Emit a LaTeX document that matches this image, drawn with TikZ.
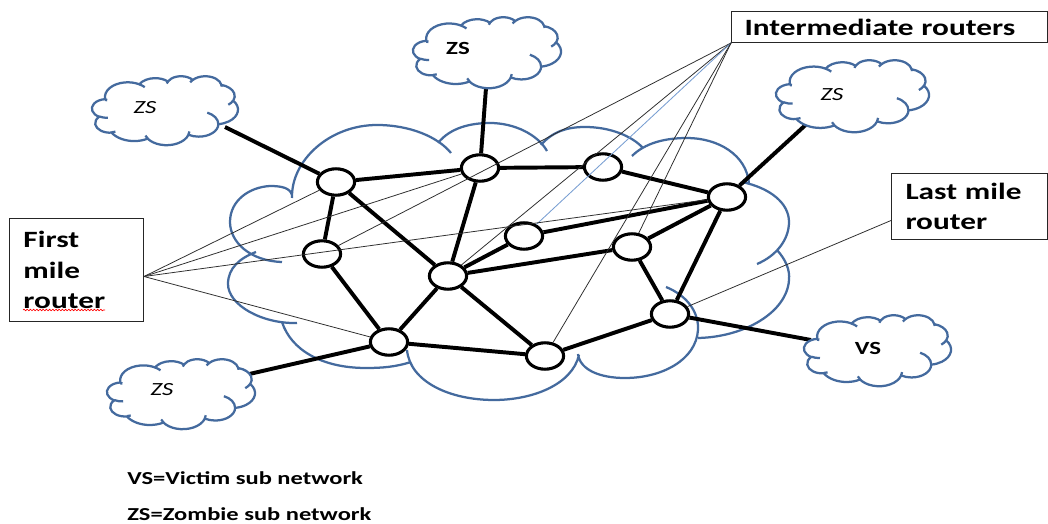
\documentclass[tikz,border=0pt]{standalone}
\usepackage{fontspec}
\newfontfamily\carl[FakeStretch=1.34]{Carlito}
\usetikzlibrary{shapes.geometric,decorations.pathmorphing}
\definecolor{cloudc}{RGB}{68,106,158}
\definecolor{thinc}{RGB}{45,45,45}
\definecolor{bluel}{RGB}{120,158,210}
\pgfdeclarelayer{bg}
\pgfsetlayers{bg,main}
\tikzset{
  declare function={
    cpt(\ra,\rb,\sa)=atan2(\ra*sin(\sa),\rb*cos(\sa));
    cdl(\ra,\rb,\sa,\sw)=mod(cpt(\ra,\rb,\sa+\sw)-cpt(\ra,\rb,\sa)+720,360)-360*(\sw<0);
  },
  ca/.style n args={4}{insert path={arc[x radius=#1,y radius=#2,start angle={cpt(#1,#2,#3)},delta angle={cdl(#1,#2,#3,#4)}]}},
  cloudline/.style={draw=cloudc,line width=1.6pt},
  officecloud/.pic={
    \path[cloudline,fill=white] (390,1437)
      [ca={675.3}{919.0}{-190.487}{123.781}]
      [ca={533.3}{726.7}{-144.102}{89.945}]
      [ca={436.5}{594.5}{-145.808}{99.723}]
      [ca={485.7}{659.5}{-130.986}{117.242}]
      [ca={533.3}{727.3}{-78.709}{109.027}]
      [ca={677.5}{922.0}{-46.267}{130.269}]
      [ca={578.5}{786.7}{0.625}{114.033}]
      [ca={675.2}{921.5}{22.452}{115.173}]
      [ca={772.0}{1054.3}{66.243}{75.711}]
      [ca={436.0}{591.8}{-274.942}{146.736}]
      [ca={434.5}{594.5}{-246.829}{152.519}] -- cycle;
    \path[cloudline] (469.3,2617.7) [ca={434.5}{594.5}{86.742}{26.430}]
      (692.8,3489.9) [ca={436.0}{591.8}{73.611}{11.447}]
      (1647.8,3909.0) [ca={675.2}{921.5}{137.624}{14.081}]
      (2882.7,3475.1) [ca={675.2}{921.5}{6.453}{15.998}]
      (3412.9,2295.4) [ca={578.5}{786.7}{-70.292}{70.917}]
      (4179.8,1535.4) [ca={533.3}{727.3}{30.318}{27.752}]
      (3832.4,542.6) [ca={485.7}{659.5}{-13.744}{14.859}]
      (2907.8,395.2) [ca={485.7}{659.5}{-149.181}{18.195}]
      (2214.1,472.0) [ca={436.5}{594.5}{-163.494}{17.686}]
      (1400.0,519.2) [ca={675.3}{919.0}{-66.707}{16}]
      (412.7,1578.9) [ca={675.3}{919.0}{180.226}{13.5}];
  },
  router/.style={ellipse,draw=black,line width=2.2pt,fill=white,minimum width=0.93cm,minimum height=0.66cm,inner sep=0pt},
  link/.style={draw=black,line width=2.8pt},
  thinl/.style={draw=thinc,line width=0.55pt},
  bluel/.style={draw=bluel,line width=0.6pt},
  lbox/.style={draw=black!85,line width=0.7pt,fill=white,rectangle,anchor=north west,align=left,inner ysep=0pt,
    font=\carl\bfseries\fontsize{16.6}{21.7}\selectfont},
  clab/.style={font=\carl\fontsize{13.2}{15}\selectfont,inner sep=0pt},
  legend/.style={font=\carl\bfseries\fontsize{13}{15}\selectfont,inner sep=0pt,anchor=base west},
}
\newcommand\ocloud[4]{\pic[xscale=#3/4320,yscale=#4/4320] at (#1,#2) {officecloud};}
\begin{document}
\begin{tikzpicture}[x=0.025cm,y=-0.025cm]
\useasboundingbox (0,0) rectangle (1048,524);

% routers
\node[router] (A) at (336,182) {};
\node[router] (B) at (480,168) {};
\node[router] (C) at (603,167) {};
\node[router] (D) at (727,197) {};
\node[router] (E) at (322,254) {};
\node[router] (F) at (524,236) {};
\node[router] (G) at (448,276) {};
\node[router] (H) at (632,247) {};
\node[router] (I) at (389,342) {};
\node[router] (J) at (545,356) {};
\node[router] (K) at (670,314) {};

% cloud attachment points
\coordinate (ctl) at (225,127);
\coordinate (ct) at (486,88);
\coordinate (cr) at (811,120);
\coordinate (cvs) at (811,340);
\coordinate (cbl) at (245,375);

\begin{pgfonlayer}{bg}
\fill[white] (0,0) rectangle (1048,524);
% big network cloud (overlapping bumps)
\draw[cloudline]
 (292,198) .. controls (291,160) and (330,125) .. (377,125) .. controls (410,125) and (438,137) .. (451,153)
 (438,143) .. controls (450,128) and (470,123) .. (490,123) .. controls (515,123) and (538,135) .. (547,151)
 (541,145) .. controls (553,131) and (568,127) .. (585,127) .. controls (610,127) and (632,136) .. (643,148)
 (632,156) .. controls (645,143) and (665,138) .. (687,138) .. controls (718,138) and (747,155) .. (749,184)
 (742,182) .. controls (770,188) and (789,203) .. (789,222) .. controls (789,240) and (776,256) .. (757,264)
 (777,250) .. controls (786,260) and (790,270) .. (789,280) .. controls (787,312) and (745,337) .. (698,338)
 (666,287) .. controls (688,296) and (699,313) .. (698,330) .. controls (696,360) and (662,378) .. (625,378) .. controls (600,378) and (580,370) .. (578,354)
 (579,355) .. controls (572,385) and (532,400) .. (494,400) .. controls (450,400) and (410,382) .. (407,350)
 (411,362) .. controls (395,367) and (382,368) .. (366,368) .. controls (322,368) and (291,350) .. (282,322)
 (297,323) .. controls (262,324) and (228,305) .. (228,284) .. controls (228,268) and (240,258) .. (256,252)
 (282,262) .. controls (250,261) and (230,242) .. (230,222) .. controls (230,200) and (250,187) .. (270,186) .. controls (282,186) and (290,188) .. (292,195);
% thick links
\draw[link] (ctl) -- (A);
\draw[link] (ct) -- (B);
\draw[link] (cr) -- (D);
\draw[link] (cvs) -- (K);
\draw[link] (cbl) -- (I);
\draw[link] (A) -- (B);
\draw[link] (A) -- (E);
\draw[link] (A) -- (G);
\draw[link] (B) -- (C);
\draw[link] (B) -- (G);
\draw[link] (C) -- (D);
\draw[link] (D) -- (F);
\draw[link] (D) -- (H);
\draw[link] (D) -- (K);
\draw[link] (F) -- (G);
\draw[link] (G) -- (H);
\draw[link] (G) -- (I);
\draw[link] (G) -- (J);
\draw[link] (E) -- (I);
\draw[link] (I) -- (J);
\draw[link] (J) -- (K);
\draw[link] (H) -- (K);
\end{pgfonlayer}

% small clouds
\ocloud{92}{76}{146}{69}
\ocloud{413}{17}{148}{71}
\ocloud{776}{60}{153}{72}
\ocloud{804}{315}{147}{71}
\ocloud{107}{359}{148}{70}
\node[clab] (zs1) at (145,108) {\itshape ZS};
\node[clab] (zs2) at (458,48) {\bfseries ZS};
\node[clab] (zs3) at (832,95) {\itshape ZS};
\node[clab] (vs) at (868,348) {\bfseries VS};
\node[clab] (zs4) at (162,390) {\itshape ZS};

% label boxes
\node[lbox,inner xsep=0.325cm,text width=7.25cm,minimum height=0.775cm] (ir) at (731,11) {Intermediate routers};
\node[lbox,inner xsep=0.35cm,text width=3.2cm,minimum height=1.65cm] (lm) at (891,173) {Last mile\\router};
\node[lbox,inner xsep=0.35cm,text width=2.65cm,minimum height=2.575cm] (fm) at (9,218) {First\\mile\\router};
\draw[red,line width=0.45pt,decorate,decoration={snake,amplitude=0.02cm,segment length=0.08cm}] (23,310) -- (105,310);

\coordinate (fmp) at ([yshift=-0.1625cm]fm.east);
\coordinate (lmp) at ([yshift=-0.35cm]lm.west);

% thin pointer lines
\draw[thinl] (ir.south west) -- (E);
\draw[thinl] (ir.south west) -- (G);
\draw[bluel] (ir.south west) -- (F);
\draw[thinl] (ir.south west) -- (J);
\draw[thinl] (ir.south west) -- (H);
\draw[thinl] (fmp) -- (A);
\draw[thinl] (fmp) -- (B);
\draw[thinl] (fmp) -- (D);
\draw[thinl] (fmp) -- (I);
\draw[thinl] (lmp) -- (K);

% legend
\node[legend] (l1) at (127,485) {VS=Victim sub network};
\node[legend] (l2) at (127,521) {ZS=Zombie sub network};
\end{tikzpicture}
\end{document}
